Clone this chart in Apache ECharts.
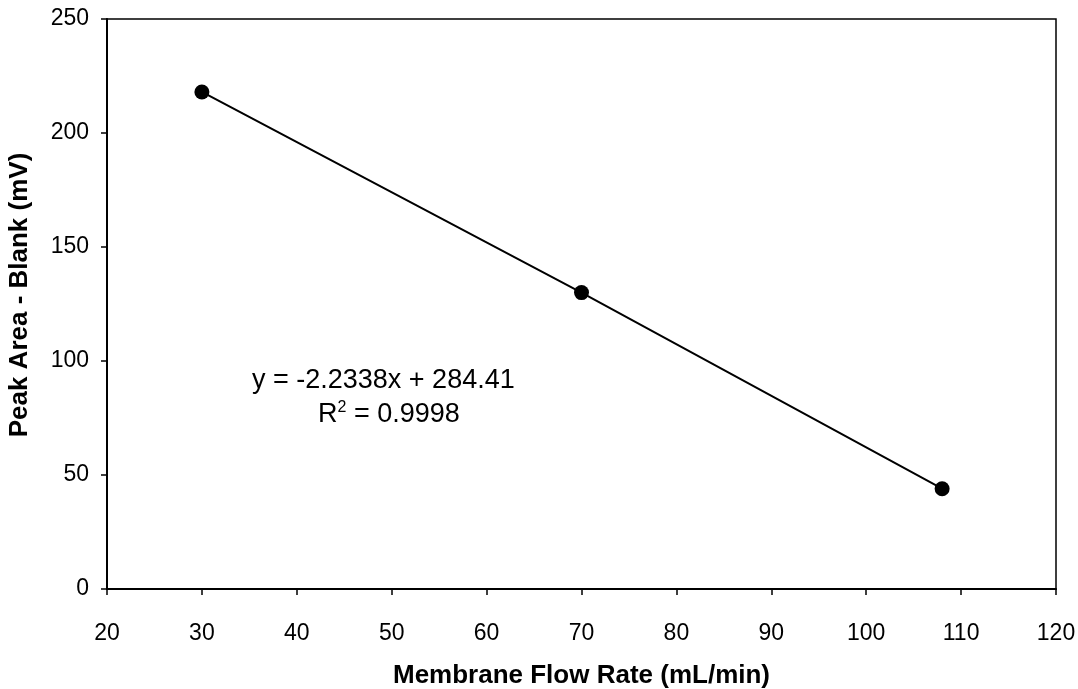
<!DOCTYPE html>
<html>
<head>
<meta charset="utf-8">
<script src="https://cdn.jsdelivr.net/npm/echarts@6/dist/echarts.min.js"></script>
<style>
html,body{margin:0;padding:0;background:#fff;}
#c{width:1078px;height:689px;}
</style>
</head>
<body>
<div id="c"></div>
<script>
const flowRates = [30, 70, 108];
const peakAreas = [218, 130, 44];
const xTitle = 'Membrane Flow Rate (mL/min)';
const yTitle = 'Peak Area - Blank (mV)';
const eqText = 'y = -2.2338x + 284.41';
const r2Text = 'R{sup|2} = 0.9998';

const chart = echarts.init(document.getElementById('c'));
const font = '"Liberation Sans", Arial, sans-serif';
const pts = flowRates.map((x, i) => [x, peakAreas[i]]);
chart.setOption({
  animation: false,
  backgroundColor: '#fff',
  grid: {left: 107, right: 22, top: 19, bottom: 100, outerBoundsMode: 'none', containLabel: false,
         show: true, borderColor: '#000', borderWidth: 1.5},
  xAxis: {
    type: 'value', min: 20, max: 120, interval: 10,
    name: xTitle, nameLocation: 'middle', nameGap: 74,
    nameTextStyle: {fontFamily: font, fontWeight: 'bold', fontSize: 26, color: '#000'},
    axisLine: {show: true, onZero: false, lineStyle: {color: '#000', width: 2}},
    axisTick: {show: true, length: 6, lineStyle: {color: '#000', width: 1.5}},
    axisLabel: {fontFamily: font, fontSize: 23, color: '#000', margin: 33},
    splitLine: {show: false}
  },
  yAxis: {
    type: 'value', min: 0, max: 250, interval: 50,
    name: yTitle, nameLocation: 'middle', nameGap: 74, nameRotate: 90,
    nameTextStyle: {fontFamily: font, fontWeight: 'bold', fontSize: 26, color: '#000', padding: [0, 0, 0, 18]},
    axisLine: {show: true, lineStyle: {color: '#000', width: 2}},
    axisTick: {show: true, length: 6, lineStyle: {color: '#000', width: 1.5}},
    axisLabel: {fontFamily: font, fontSize: 23, color: '#000', margin: 18},
    splitLine: {show: false}
  },
  series: [{
    type: 'line',
    data: pts,
    symbol: 'circle',
    symbolSize: 15,
    itemStyle: {color: '#000'},
    lineStyle: {color: '#000', width: 2}
  }],
  graphic: [
    {type: 'text', left: 252, top: 367, style: {text: eqText, font: '27px ' + font, fill: '#000'}},
    {type: 'text', left: 318, top: 400, style: {
      text: r2Text, font: '27px ' + font, fill: '#000',
      rich: {sup: {fontSize: 16, verticalAlign: 'top', padding: [0, 0, 14, 0], fontFamily: font}}
    }}
  ]
});
</script>
</body>
</html>
